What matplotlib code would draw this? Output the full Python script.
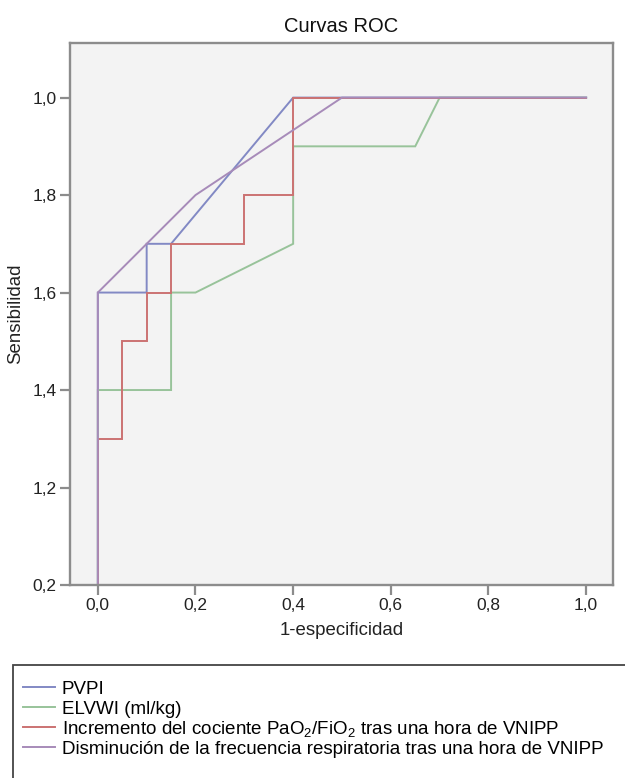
import matplotlib
matplotlib.use("Agg")
import matplotlib.pyplot as plt
from matplotlib.patches import Rectangle

plt.rcParams['font.family'] = ['Liberation Sans', 'DejaVu Sans']
plt.rcParams['mathtext.fontset'] = 'custom'
plt.rcParams['mathtext.rm'] = 'Liberation Sans'
plt.rcParams['mathtext.it'] = 'Liberation Sans'

# Data (1-especificidad, sensibilidad)
pvpi_x = [0.0, 0.0, 0.1, 0.1, 0.15, 0.4, 1.0]
pvpi_y = [0.0, 0.6, 0.6, 0.7, 0.7, 1.0, 1.0]

elvwi_x = [0.0, 0.0, 0.15, 0.15, 0.2, 0.4, 0.4, 0.65, 0.7, 1.0]
elvwi_y = [0.0, 0.4, 0.4, 0.6, 0.6, 0.7, 0.9, 0.9, 1.0, 1.0]

pao2_x = [0.0, 0.0, 0.05, 0.05, 0.1, 0.1, 0.15, 0.15, 0.3, 0.3, 0.4, 0.4, 1.0]
pao2_y = [0.0, 0.3, 0.3, 0.5, 0.5, 0.6, 0.6, 0.7, 0.7, 0.8, 0.8, 1.0, 1.0]

fr_x = [0.0, 0.0, 0.1, 0.2, 0.5, 1.0]
fr_y = [0.0, 0.6, 0.7, 0.8, 1.0, 1.0]

labels = ["PVPI",
          "ELVWI (ml/kg)",
          "Incremento del cociente PaO$_2$/FiO$_2$ tras una hora de VNIPP",
          "Disminución de la frecuencia respiratoria tras una hora de VNIPP"]
colors = ["#8289c4", "#98c39a", "#cb7272", "#a78bb9"]

x_ticks = [0.0, 0.2, 0.4, 0.6, 0.8, 1.0]
x_ticklabels = ["0,0", "0,2", "0,4", "0,6", "0,8", "1,0"]
y_ticks = [0.0, 0.2, 0.4, 0.6, 0.8, 1.0]
y_ticklabels = ["0,2", "1,2", "1,4", "1,6", "1,8", "1,0"]

W, H = 625, 778
fig = plt.figure(figsize=(W / 100, H / 100), dpi=100)
fig.patch.set_facecolor("white")
ax = fig.add_axes([70 / W, 1 - 585 / H, 543 / W, (585 - 43) / H])
ax.set_facecolor("#f3f3f3")

series = [(pvpi_x, pvpi_y), (elvwi_x, elvwi_y), (pao2_x, pao2_y), (fr_x, fr_y)]
handles = []
for (xs, ys), c, lab in zip(series, colors, labels):
    h, = ax.plot(xs, ys, color=c, lw=1.4, label=lab, solid_joinstyle='miter')
    handles.append(h)

ax.set_xlim(-0.057, 1.055)
ax.set_ylim(0.0, 1.112)
ax.set_xticks(x_ticks)
ax.set_xticklabels(x_ticklabels)
ax.set_yticks(y_ticks)
ax.set_yticklabels(y_ticklabels)
ax.tick_params(axis='both', direction='out', length=7, width=1.6, color="#8c8c8c",
               labelsize=12.5, labelcolor="#222222", pad=2.5)
for s in ax.spines.values():
    s.set_color("#8c8c8c")
    s.set_linewidth(1.7)

ax.set_title("Curvas ROC", fontsize=14.5, color="#111111", pad=8)
ax.set_xlabel("1-especificidad", fontsize=13.4, color="#222222", labelpad=6)
ax.set_ylabel("Sensibilidad", fontsize=13.4, color="#222222", labelpad=6)

# legend frame (extends beyond figure)
fig.patches.append(Rectangle((13 / W, -0.05), 1.0, 1 - 665 / H + 0.05,
                             transform=fig.transFigure, fill=False,
                             edgecolor="#444444", lw=1.3))
# one row per entry, evenly spaced (fig.legend keeps every legend it makes)
row_y0, row_dy = 689, 20
for i, (h, lab) in enumerate(zip(handles, labels)):
    fig.legend(handles=[h], labels=[lab], loc='center left',
               bbox_to_anchor=(23 / W, 1 - (row_y0 + i * row_dy) / H),
               frameon=False, fontsize=13.5, handlelength=1.7,
               handletextpad=0.36, borderaxespad=0, borderpad=0)

fig.savefig("out.png", dpi=100, facecolor="white")
